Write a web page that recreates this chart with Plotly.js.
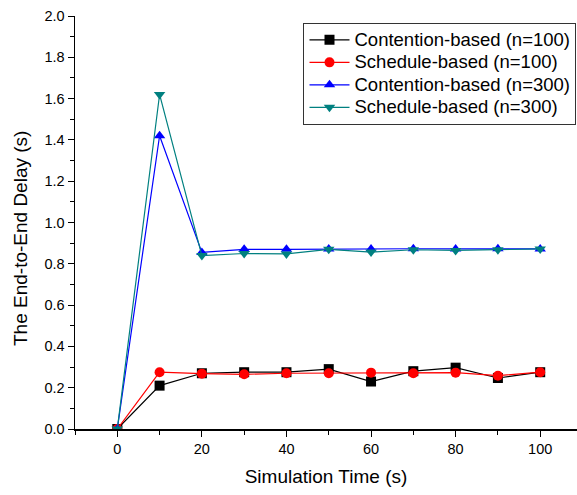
<!DOCTYPE html>
<html>
<head>
<meta charset="utf-8">
<script src="https://cdn.plot.ly/plotly-3.0.1.min.js"></script>
<style>
  html, body { margin: 0; padding: 0; background: #fff; }
  #chart { width: 577px; height: 495px; }
</style>
</head>
<body>
<div id="chart"></div>
<script>
// Simulation time (s)
const simTime = [0, 10, 20, 30, 40, 50, 60, 70, 80, 90, 100];

// End-to-end delay (s) for each MAC scheme and network size
const contention100 = [0, 0.21, 0.27, 0.275, 0.275, 0.29, 0.23, 0.28, 0.297, 0.247, 0.275];
const schedule100   = [0, 0.275, 0.268, 0.265, 0.27, 0.27, 0.273, 0.27, 0.273, 0.258, 0.275];
const contention300 = [0, 1.42, 0.855, 0.87, 0.87, 0.872, 0.872, 0.873, 0.872, 0.873, 0.872];
const schedule300   = [0, 1.62, 0.84, 0.85, 0.848, 0.87, 0.857, 0.868, 0.865, 0.868, 0.872];

const seriesNames = [
  'Contention-based (n=100)',
  'Schedule-based (n=100)',
  'Contention-based (n=300)',
  'Schedule-based (n=300)'
];

const xTicks = [0, 20, 40, 60, 80, 100];
const yTicks = [0, 0.2, 0.4, 0.6, 0.8, 1.0, 1.2, 1.4, 1.6, 1.8, 2.0];

const FONT = 'Liberation Sans, Arial, sans-serif';

// Legend rows are spaced from the legend font; the label itself is drawn a bit larger.
function legendLabel(name) {
  return '<span style="font-size:18.5px">' + name + '</span>';
}

function series(name, y, color, symbol) {
  return {
    x: simTime, y: y, name: legendLabel(name),
    type: 'scatter', mode: 'lines+markers',
    line: { color: color, width: 1.2 },
    marker: { color: color, symbol: symbol, size: 10, line: { width: 0 } }
  };
}

const traces = [
  series(seriesNames[0], contention100, '#000000', 'square'),
  series(seriesNames[1], schedule100, '#ff0000', 'circle'),
  series(seriesNames[2], contention300, '#0000ff', 'triangle-up'),
  series(seriesNames[3], schedule300, '#008080', 'triangle-down')
];

const layout = {
  width: 577, height: 495,
  margin: { l: 75, r: 0, t: 16, b: 66 },
  paper_bgcolor: '#fff', plot_bgcolor: '#fff',
  font: { family: FONT, color: '#000' },
  showlegend: true,
  legend: {
    x: 0.999, y: 0.984, xanchor: 'right', yanchor: 'top',
    bordercolor: '#333', borderwidth: 1, bgcolor: '#fff',
    font: { family: FONT, size: 15, color: '#000' },
    tracegroupgap: 0, itemwidth: 40
  },
  xaxis: {
    range: [-10, 108.7],
    tickmode: 'array', tickvals: xTicks, ticktext: xTicks.map(String),
    ticks: 'outside', ticklen: 6, tickwidth: 1, tickcolor: '#000',
    minor: { dtick: 10, tick0: 0, ticks: 'outside', ticklen: 4, tickcolor: '#000' },
    showline: true, linecolor: '#000', linewidth: 1.5,
    showgrid: false, zeroline: false,
    tickfont: { family: FONT, size: 14.5 },
    title: { text: 'Simulation Time (s)', font: { family: FONT, size: 19 }, standoff: 14 }
  },
  yaxis: {
    range: [0, 2.0],
    tickmode: 'array', tickvals: yTicks, ticktext: yTicks.map(v => v.toFixed(1)),
    ticks: 'outside', ticklen: 6, tickwidth: 1, tickcolor: '#000',
    minor: { dtick: 0.1, tick0: 0, ticks: 'outside', ticklen: 4, tickcolor: '#000' },
    showline: true, linecolor: '#000', linewidth: 1.5,
    showgrid: false, zeroline: false,
    tickfont: { family: FONT, size: 14.5 }
  },
  annotations: [{
    text: 'The End-to-End Delay (s)',
    xref: 'paper', yref: 'paper', x: 0, y: 0.46,
    xanchor: 'center', yanchor: 'middle', xshift: -55,
    textangle: -90, showarrow: false,
    font: { family: FONT, size: 19, color: '#000' }
  }]
};

Plotly.newPlot('chart', traces, layout, { displayModeBar: false, staticPlot: true });
</script>
</body>
</html>
